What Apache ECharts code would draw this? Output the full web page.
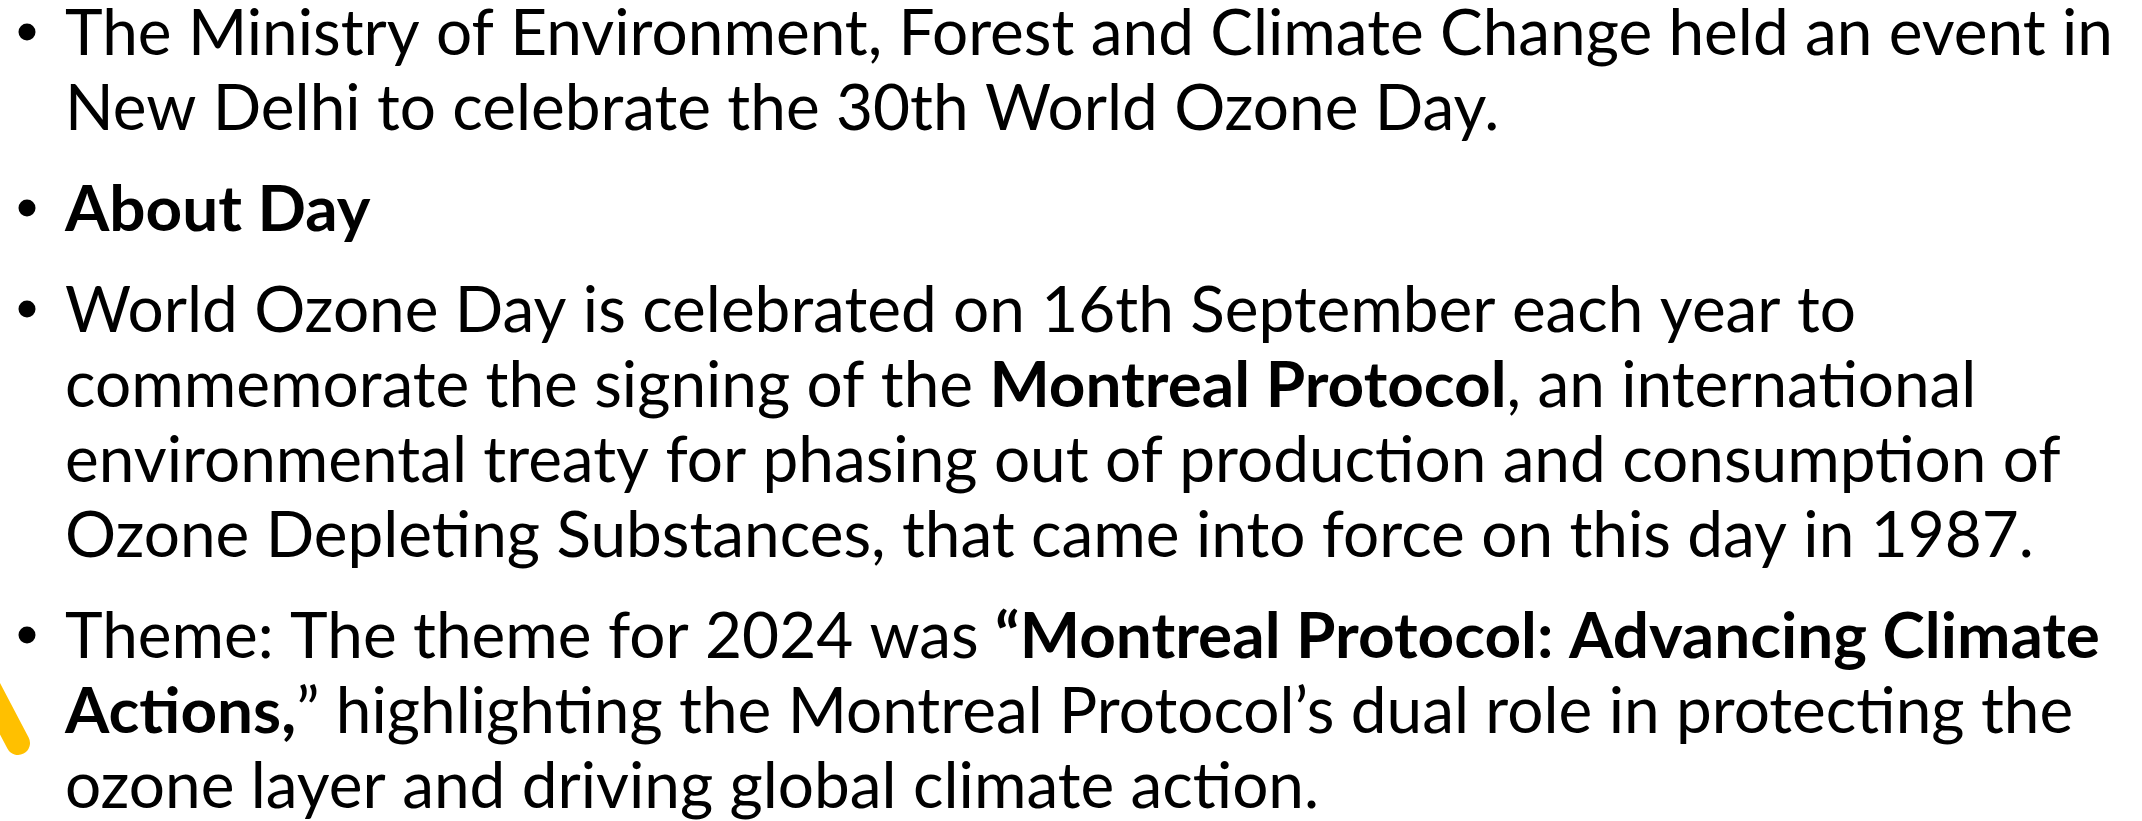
<!DOCTYPE html>
<html>
<head>
<meta charset="utf-8">
<script src="https://cdn.jsdelivr.net/npm/echarts@6/dist/echarts.min.js"></script>
<style>
  html, body { margin: 0; padding: 0; background: #fff; }
  #main { width: 2142px; height: 821px; }
</style>
</head>
<body>
<div id="main"></div>
<script>
// slide text, one array per bullet; {b|...} marks bold runs
var bullet1 = [
    'The Ministry of Environment, Forest and Climate Change held an event in',
    'New Delhi to celebrate the 30th World Ozone Day.'
];
var bullet2 = [
    '{b|About Day}'
];
var bullet3 = [
    'World Ozone Day is celebrated on 16th September each year to',
    'commemorate the signing of the {b|Montreal Protocol}, an international',
    'environmental treaty for phasing out of production and consumption of',
    'Ozone Depleting Substances, that came into force on this day in 1987.'
];
var bullet4 = [
    'Theme: The theme for 2024 was {b|\u201cMontreal Protocol: Advancing Climate}',
    '{b|Actions,}\u201d highlighting the Montreal Protocol\u2019s dual role in protecting the',
    'ozone layer and driving global climate action.'
];
var bullets = [bullet1, bullet2, bullet3, bullet4];

var fontFamily = 'Lato';
var fontSize = 63;
var textLeft = 65;
var firstBaseline = 55;
var lineStep = 75;
var paraStep = 101;
var targetWidth = 2048; // width of the first line in the slide

// squeeze the font horizontally so it sets like the original Calibri
var ctx = document.createElement('canvas').getContext('2d');
ctx.font = fontSize + 'px ' + fontFamily;
var sx = targetWidth / ctx.measureText(bullet1[0]).width;

var rich = {
    b: { fontWeight: 'bold', fontSize: fontSize, fontFamily: fontFamily, fill: '#000' }
};

var elements = [];
var baseline = firstBaseline;
bullets.forEach(function (lines, p) {
    if (p > 0) baseline += paraStep - lineStep;
    elements.push({
        type: 'circle',
        shape: { cx: 27, cy: baseline - 23, r: 8.5 },
        style: { fill: '#000' }
    });
    lines.forEach(function (line) {
        elements.push({
            type: 'text',
            x: textLeft,
            y: baseline - 0.32 * fontSize,
            scaleX: sx,
            style: {
                text: line,
                fontSize: fontSize,
                fontFamily: fontFamily,
                fill: '#000',
                align: 'left',
                verticalAlign: 'middle',
                rich: rich
            }
        });
        baseline += lineStep;
    });
    baseline -= lineStep;
    baseline += lineStep;
});

// yellow brush stroke at the left edge
elements.push({
    type: 'line',
    shape: { x1: -12, y1: 686, x2: 18, y2: 743 },
    style: { stroke: '#FFC000', lineWidth: 24, lineCap: 'round' }
});

var chart = echarts.init(document.getElementById('main'));
chart.setOption({
    backgroundColor: '#fff',
    animation: false,
    graphic: { elements: elements }
});
</script>
</body>
</html>
